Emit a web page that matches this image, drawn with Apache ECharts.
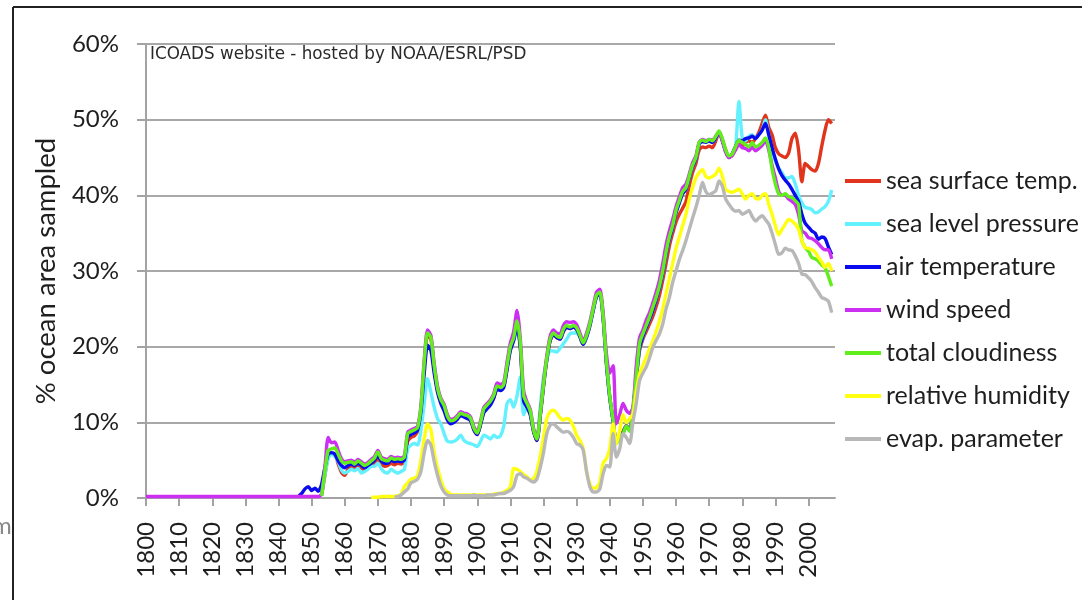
<!DOCTYPE html>
<html>
<head>
<meta charset="utf-8">
<script src="https://cdn.jsdelivr.net/npm/echarts@6/dist/echarts.min.js"></script>
<style>
  html, body { margin: 0; padding: 0; background: #ffffff; }
  #chart { width: 1082px; height: 600px; }
</style>
</head>
<body>
<div id="chart"></div>
<script>
// Percent of ocean area sampled per year, ICOADS (annual values)
const decadeTicks = [1800, 1810, 1820, 1830, 1840, 1850, 1860, 1870, 1880, 1890, 1900,
  1910, 1920, 1930, 1940, 1950, 1960, 1970, 1980, 1990, 2000];

const seriesNames = ['sea surface temp.', 'sea level pressure', 'air temperature', 'wind speed',
  'total cloudiness', 'relative humidity', 'evap. parameter'];

// sea surface temperature, from 1853
const sstStart = 1853;
const sst = [0.3, 3.0, 5.5, 5.8, 5.8, 4.5, 3.4, 3.0, 3.8, 4.2, 4.0, 4.4, 4.0, 3.7, 4.0, 4.3, 4.6, 5.2, 4.5, 4.2,
  4.3, 4.6, 4.4, 4.6, 4.5, 4.7, 7.5, 8.0, 8.2, 8.8, 11.5, 17.5, 21.5, 21.0, 17.2, 14.3, 12.8, 11.8, 10.5, 10.0,
  10.2, 10.6, 11.0, 10.8, 10.6, 10.3, 9.0, 8.4, 9.8, 11.5, 12.0, 12.5, 13.3, 14.5, 14.3, 14.8, 17.2, 19.8, 21.0, 23.0,
  20.2, 13.2, 12.2, 11.2, 8.8, 7.6, 10.8, 14.8, 18.3, 20.8, 21.6, 21.2, 21.0, 22.0, 22.6, 22.4, 22.6, 22.3, 21.3, 20.3,
  21.3, 22.8, 24.8, 26.6, 27.0, 23.8, 17.8, 13.3, 10.2, 7.5, 8.2, 8.8, 9.6, 9.0, 11.5, 15.8, 19.5, 21.0, 22.0, 23.0,
  24.0, 25.3, 26.8, 28.8, 31.0, 33.3, 35.0, 36.5, 37.5, 38.3, 39.2, 41.3, 43.0, 44.2, 46.0, 46.4, 46.3, 46.5, 46.3, 47.2,
  48.3, 47.2, 46.0, 45.0, 45.3, 46.3, 46.8, 46.5, 47.0, 47.2, 47.0, 47.5, 48.3, 49.5, 50.6, 49.0, 48.0, 46.3, 45.5, 45.2,
  45.0, 45.6, 47.5, 48.2, 46.0, 41.8, 44.2, 43.8, 43.4, 43.2, 44.2, 46.5, 48.6, 50.0, 49.5];

// sea level pressure, from 1853
const slpStart = 1853;
const slp = [0.3, 3.0, 5.2, 5.8, 5.5, 4.8, 3.7, 3.3, 3.5, 3.8, 3.6, 3.9, 3.3, 3.5, 3.8, 4.2, 4.2, 4.6, 3.9, 3.4,
  3.3, 3.8, 3.5, 3.3, 3.5, 3.8, 6.5, 7.0, 7.2, 7.0, 9.0, 12.5, 15.8, 14.0, 12.0, 10.5, 9.8, 8.5, 7.5, 7.4,
  7.5, 7.8, 8.3, 7.6, 7.3, 7.2, 7.0, 6.8, 7.5, 8.3, 8.1, 7.8, 8.3, 8.0, 8.2, 9.5, 12.5, 13.0, 12.0, 13.5,
  16.0, 11.0, 12.0, 11.2, 9.0, 7.8, 12.0, 16.0, 18.2, 19.5, 19.4, 19.3, 19.8, 20.4, 21.0, 21.7, 21.8, 21.8, 21.3, 20.3,
  21.3, 22.8, 24.8, 26.6, 27.0, 23.8, 17.8, 13.3, 10.2, 7.3, 8.0, 8.6, 9.5, 8.9, 11.5, 15.8, 19.8, 21.3, 22.5, 23.6,
  24.8, 26.2, 27.7, 29.7, 32.2, 34.2, 35.7, 37.7, 39.0, 40.2, 40.8, 42.3, 43.8, 44.8, 46.8, 47.1, 47.0, 47.2, 47.0, 47.6,
  48.3, 47.3, 45.8, 45.0, 45.5, 46.5, 52.4, 47.6, 47.2, 47.8, 48.0, 47.5, 48.0, 48.6, 50.0, 48.0, 46.0, 44.5, 43.6, 43.0,
  42.3, 42.3, 42.5, 41.5, 40.0, 39.0, 38.4, 38.3, 38.1, 37.7, 37.8, 38.2, 38.5, 39.2, 40.7];

// air temperature, from 1846
const airStart = 1846;
const air = [0.2, 0.6, 1.2, 1.5, 1.0, 1.3, 0.9, 1.8, 4.0, 5.8, 6.0, 5.8, 4.9, 4.3, 4.0, 4.3, 4.5, 4.3, 4.6, 4.3,
  4.0, 4.3, 4.6, 5.0, 5.6, 4.9, 4.6, 4.6, 5.0, 4.8, 4.9, 4.8, 5.0, 8.0, 8.4, 8.6, 9.0, 11.5, 16.5, 20.2,
  19.5, 16.5, 14.0, 12.5, 11.5, 10.3, 9.8, 10.0, 10.4, 10.9, 10.7, 10.5, 10.2, 9.0, 8.4, 9.7, 11.3, 11.8, 12.3, 13.2,
  14.4, 14.2, 14.6, 17.0, 19.5, 20.8, 22.6, 19.8, 12.8, 12.0, 11.0, 8.8, 7.6, 10.8, 14.8, 18.3, 20.8, 21.6, 21.2, 21.0,
  22.0, 22.6, 22.4, 22.6, 22.3, 21.3, 20.3, 21.3, 22.8, 24.8, 26.6, 27.0, 23.8, 17.8, 13.3, 10.2, 7.3, 8.0, 8.6, 9.5,
  8.9, 11.5, 15.8, 19.8, 21.3, 22.5, 23.6, 24.8, 26.2, 27.7, 29.7, 32.2, 34.2, 35.7, 37.7, 39.0, 40.2, 40.8, 42.3, 43.8,
  44.8, 46.8, 47.1, 47.0, 47.2, 47.0, 47.6, 48.3, 47.3, 45.8, 45.0, 45.5, 46.5, 47.3, 47.2, 47.5, 47.6, 47.8, 47.5, 48.0,
  48.6, 49.5, 48.0, 46.3, 44.8, 43.5, 42.6, 42.0, 41.5, 40.8, 40.0, 39.2, 37.5, 36.3, 35.8, 35.3, 35.0, 34.2, 34.5, 34.3,
  33.2, 32.2];

// wind speed, from 1800
const windStart = 1800;
const wind = [0.2, 0.2, 0.2, 0.2, 0.2, 0.2, 0.2, 0.2, 0.2, 0.2, 0.2, 0.2, 0.2, 0.2, 0.2, 0.2, 0.2, 0.2, 0.2, 0.2,
  0.2, 0.2, 0.2, 0.2, 0.2, 0.2, 0.2, 0.2, 0.2, 0.2, 0.2, 0.2, 0.2, 0.2, 0.2, 0.2, 0.2, 0.2, 0.2, 0.2,
  0.2, 0.2, 0.2, 0.2, 0.2, 0.2, 0.2, 0.2, 0.2, 0.2, 0.2, 0.2, 0.2,
  0.5, 4.0, 8.0, 7.3, 7.4, 6.3, 5.2, 4.8, 4.9, 5.0, 4.7, 5.1, 4.8, 4.5, 4.7, 5.1, 5.5, 6.3, 5.4, 5.2,
  5.1, 5.5, 5.3, 5.4, 5.3, 5.6, 8.7, 9.0, 9.2, 9.5, 12.2, 18.3, 22.2, 21.5, 17.8, 14.8, 13.2, 12.4, 11.0, 10.4,
  10.5, 10.9, 11.4, 11.2, 11.1, 10.7, 9.4, 8.8, 10.2, 12.0, 12.5, 13.0, 13.8, 15.2, 15.0, 15.3, 18.0, 20.5, 22.0, 24.8,
  21.0, 14.2, 12.7, 11.7, 9.2, 8.0, 11.2, 15.3, 18.8, 21.4, 22.2, 21.8, 21.7, 22.8, 23.3, 23.2, 23.3, 22.9, 21.8, 20.7,
  21.8, 23.3, 25.3, 27.2, 27.6, 24.5, 19.0, 16.5, 17.5, 9.8, 11.0, 12.5, 11.6, 11.2, 12.0, 17.5, 21.2, 22.2, 23.5, 24.5,
  25.8, 27.2, 28.8, 31.0, 33.5, 35.3, 36.8, 38.5, 39.8, 41.0, 41.5, 42.8, 44.3, 45.2, 47.0, 47.4, 47.2, 47.4, 47.3, 47.8,
  48.4, 47.2, 45.7, 45.0, 45.3, 46.0, 46.7, 46.3, 46.2, 45.9, 46.4, 45.9, 46.2, 46.6, 47.2, 46.0, 44.0, 42.3, 40.5, 40.0,
  40.0, 39.5, 39.2, 38.8, 37.5, 35.3, 35.0, 34.4, 34.3, 34.0, 33.6, 33.1, 32.8, 32.8, 31.6];

// total cloudiness, from 1853
const cloudStart = 1853;
const cloud = [0.3, 3.5, 6.3, 6.5, 6.6, 5.8, 4.9, 4.6, 4.7, 4.8, 4.5, 4.9, 4.6, 4.3, 4.5, 4.9, 5.3, 6.1, 5.2, 5.0,
  4.9, 5.3, 5.1, 5.2, 5.1, 5.4, 8.5, 8.8, 9.0, 9.3, 12.0, 18.0, 21.8, 21.2, 17.5, 14.5, 13.0, 12.2, 10.8, 10.2,
  10.3, 10.7, 11.2, 11.0, 10.9, 10.5, 9.2, 8.6, 10.0, 11.8, 12.3, 12.8, 13.6, 14.8, 14.6, 15.0, 17.5, 20.0, 21.2, 23.4,
  20.5, 13.5, 12.5, 11.5, 9.0, 7.8, 11.0, 15.0, 18.5, 21.0, 21.8, 21.4, 21.2, 22.3, 22.8, 22.6, 22.8, 22.5, 21.5, 20.5,
  21.5, 23.0, 25.0, 26.8, 27.2, 24.0, 18.0, 13.5, 10.3, 7.2, 8.0, 8.5, 9.5, 8.8, 11.6, 16.0, 20.4, 21.7, 22.8, 23.9,
  25.2, 26.5, 28.0, 30.0, 32.5, 34.5, 36.0, 38.0, 39.3, 40.5, 41.0, 42.5, 44.0, 45.0, 47.0, 47.3, 47.1, 47.4, 47.2, 47.8,
  48.5, 47.5, 46.0, 45.2, 45.5, 46.5, 47.3, 47.0, 46.7, 46.4, 47.0, 46.4, 46.6, 47.0, 47.6, 46.3, 43.5, 41.5, 40.2, 40.0,
  40.2, 39.8, 39.7, 39.3, 38.8, 34.0, 33.1, 32.6, 31.8, 31.6, 31.3, 30.8, 30.4, 29.3, 28.0];

// relative humidity, from 1868
const rhStart = 1868;
const rh = [0.1, 0.1, 0.1, 0.2, 0.2, 0.2, 0.2, 0.2, 0.3, 0.5, 1.5, 2.0, 2.5, 2.6, 3.0, 5.0, 7.8, 9.8, 9.0, 6.0,
  4.0, 2.4, 1.2, 0.8, 0.5, 0.4, 0.4, 0.4, 0.4, 0.4, 0.4, 0.4, 0.4, 0.4, 0.4, 0.4, 0.4, 0.5, 0.6, 0.6,
  0.8, 1.0, 1.5, 3.9, 3.8, 3.5, 3.1, 2.8, 2.4, 2.6, 3.5, 5.5, 8.0, 10.5, 11.4, 11.6, 11.2, 10.6, 10.3, 10.5,
  10.3, 9.5, 8.3, 7.6, 6.5, 3.5, 1.9, 1.3, 1.4, 2.1, 4.6, 5.2, 6.5, 9.8, 7.2, 8.9, 11.0, 10.0, 10.5, 11.1,
  14.0, 16.4, 17.5, 18.6, 19.7, 20.8, 22.0, 23.4, 25.0, 27.0, 29.0, 31.0, 33.0, 34.5, 36.0, 37.5, 39.5, 41.0, 42.3, 43.0,
  43.4, 42.5, 42.3, 42.5, 42.8, 43.6, 42.5, 40.8, 40.5, 40.4, 40.6, 40.8, 40.2, 39.5, 40.0, 40.2, 39.6, 39.5, 40.0, 40.2,
  38.8, 37.5, 36.0, 34.8, 35.5, 36.2, 36.8, 36.6, 36.2, 35.5, 34.0, 33.1, 33.0, 32.8, 32.5, 31.8, 31.2, 30.5, 31.0, 30.0];

// evaporation parameter, from 1875
const evapStart = 1875;
const evap = [0.1, 0.2, 0.4, 0.8, 1.2, 2.0, 2.2, 2.5, 3.5, 6.0, 7.6, 7.0, 4.8, 3.0, 1.6, 0.8, 0.4, 0.3, 0.3, 0.3,
  0.3, 0.3, 0.3, 0.3, 0.4, 0.3, 0.3, 0.3, 0.4, 0.4, 0.4, 0.5, 0.6, 0.6, 0.8, 1.0, 1.5, 3.0, 3.2, 2.8,
  2.6, 2.3, 2.1, 2.5, 4.0, 6.0, 8.5, 9.6, 9.8, 9.4, 9.0, 8.7, 8.8, 8.6, 8.0, 7.2, 7.0, 6.3, 3.5, 1.5,
  0.8, 0.8, 1.2, 3.2, 4.3, 4.1, 8.5, 5.4, 6.5, 8.5, 8.0, 7.2, 10.0, 12.5, 15.5, 16.5, 17.3, 18.5, 19.9, 20.8,
  21.7, 23.0, 25.0, 26.5, 28.5, 30.0, 31.5, 32.7, 34.0, 35.5, 37.0, 38.4, 40.0, 41.7, 40.5, 40.1, 40.3, 40.6, 41.9, 41.2,
  39.5, 38.8, 38.2, 37.9, 38.0, 37.5, 37.7, 38.0, 37.2, 36.6, 37.0, 37.3, 36.8, 36.2, 35.0, 33.5, 32.2, 32.4, 33.0, 32.8,
  32.7, 32.0, 31.0, 29.6, 29.5, 29.1, 28.6, 27.8, 27.2, 26.5, 26.3, 26.0, 24.5];

const seriesColors = ['#e0341c', '#63f0ff', '#0a0aee', '#cc2ff2', '#62ee1c', '#ffff10', '#b8b8b8'];

function toPairs(start, values) {
  return values.map((v, i) => [start + i, v]);
}

const seriesData = [
  toPairs(sstStart, sst),
  toPairs(slpStart, slp),
  toPairs(airStart, air),
  toPairs(windStart, wind),
  toPairs(cloudStart, cloud),
  toPairs(rhStart, rh),
  toPairs(evapStart, evap)
];

const FONT = 'Lato';
const chart = echarts.init(document.getElementById('chart'), null, { renderer: 'canvas' });

chart.setOption({
  animation: false,
  backgroundColor: '#ffffff',
  grid: { left: 146, right: 247, top: 44, bottom: 102, containLabel: false },
  xAxis: {
    type: 'value',
    min: 1800,
    max: 2008,
    interval: 10,
    axisLine: { show: true, lineStyle: { color: '#a3a3a3', width: 2 } },
    axisTick: { show: true, length: 8, customValues: decadeTicks, lineStyle: { color: '#a3a3a3', width: 2 } },
    axisLabel: {
      customValues: decadeTicks,
      rotate: 90,
      margin: 24,
      fontFamily: FONT,
      fontSize: 24,
      color: '#1e1e1e',
      formatter: v => (v % 10 === 0 && v <= 2000 ? String(v) : '')
    },
    splitLine: { show: false }
  },
  yAxis: {
    type: 'value',
    min: 0,
    max: 60,
    interval: 10,
    name: '% ocean area sampled',
    nameLocation: 'middle',
    nameGap: 86,
    nameRotate: 90,
    nameTextStyle: { fontFamily: FONT, fontSize: 27.5, color: '#1e1e1e' },
    axisLine: { show: true, lineStyle: { color: '#a3a3a3', width: 2 } },
    axisTick: { show: true, inside: false, length: 9, lineStyle: { color: '#a3a3a3', width: 2 } },
    axisLabel: {
      margin: 27,
      fontFamily: FONT,
      fontSize: 24,
      color: '#1e1e1e',
      formatter: v => v + '%'
    },
    splitLine: { show: true, lineStyle: { color: '#a8a8a8', width: 2 } }
  },
  legend: {
    orient: 'vertical',
    left: 840,
    top: 163,
    icon: 'rect',
    itemWidth: 36,
    itemHeight: 4,
    itemGap: 17,
    data: seriesNames,
    textStyle: { fontFamily: FONT, fontSize: 25, color: '#1e1e1e', lineHeight: 26 }
  },
  series: seriesNames.map((name, i) => ({
    name: name,
    type: 'line',
    data: seriesData[i],
    showSymbol: false,
    smooth: 0.25,
    color: seriesColors[i],
    lineStyle: { color: seriesColors[i], width: 3.4 },
    emphasis: { disabled: true }
  })),
  graphic: [
    {
      type: 'text',
      left: 150,
      top: 46,
      style: {
        text: 'ICOADS website - hosted by NOAA/ESRL/PSD',
        font: '16.8px "DejaVu Sans"',
        fill: '#2a2a2a'
      }
    },
    {
      type: 'line',
      shape: { x1: 13, y1: 7, x2: 1082, y2: 7 },
      style: { stroke: '#222222', lineWidth: 2 }
    },
    {
      type: 'line',
      shape: { x1: 13, y1: 7, x2: 13, y2: 600 },
      style: { stroke: '#222222', lineWidth: 2 }
    },
    {
      type: 'text',
      left: -8,
      top: 514,
      style: { text: 'm', font: '24px Lato', fill: '#8a8a8a' }
    }
  ]
});
</script>
</body>
</html>
